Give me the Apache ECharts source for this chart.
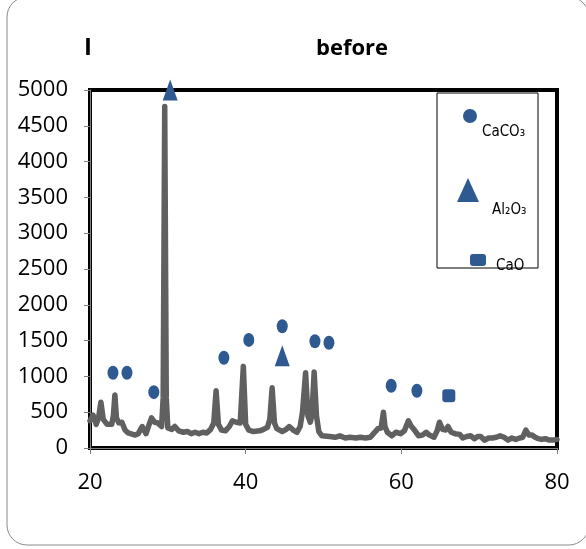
<!DOCTYPE html>
<html>
<head>
<meta charset="utf-8">
<script src="https://cdn.jsdelivr.net/npm/echarts@6/dist/echarts.min.js"></script>
<style>html,body{margin:0;padding:0;background:#fff}#c{width:586px;height:549px}</style>
</head>
<body>
<div id="c"></div>
<script>
// XRD pattern (2θ in degrees, intensity)
const twoTheta = [20.0,20.4,20.8,21.1,21.4,21.7,22.2,22.8,23.0,23.2,23.4,23.7,24.1,24.5,24.9,25.8,26.2,26.7,27.2,27.6,27.9,28.3,28.7,29.2,29.4,29.6,29.8,30.0,30.5,30.9,31.4,32.0,32.5,33.0,33.5,34.0,34.5,35.0,35.5,35.9,36.2,36.5,36.9,37.4,37.9,38.3,38.8,39.3,39.7,40.0,40.4,41.0,41.8,42.3,42.8,43.1,43.4,43.7,44.0,44.7,45.2,45.6,46.1,46.6,47.0,47.3,47.7,48.0,48.3,48.5,48.8,49.1,49.4,49.8,50.8,51.5,52.1,52.8,53.4,54.2,54.7,55.4,56.0,56.6,57.0,57.4,57.7,57.9,58.2,58.8,59.3,59.9,60.4,60.9,61.3,61.7,62.2,62.7,63.2,63.6,64.2,64.6,64.9,65.3,65.7,66.0,66.4,66.9,67.5,67.9,68.4,68.9,69.4,69.8,70.2,70.7,71.2,71.7,72.2,72.7,73.2,73.7,74.2,74.7,75.2,75.6,76.0,76.4,76.8,77.2,77.6,78.0,78.5,79.0,79.5,80.0];
const intensity = [380,460,330,420,640,400,330,330,450,740,420,350,360,250,210,180,200,300,200,330,420,360,350,300,700,4770,700,280,260,300,240,220,230,200,220,200,220,210,260,350,800,330,250,240,300,380,360,350,1140,330,250,230,240,260,290,400,840,350,270,230,260,300,250,220,300,500,1050,450,360,450,1060,450,230,170,160,150,170,140,150,140,150,140,150,220,270,280,500,300,220,170,220,200,240,380,300,250,170,180,220,180,150,240,360,260,250,300,220,200,190,140,160,170,130,160,160,110,140,140,150,170,150,110,140,120,140,150,250,180,180,150,130,120,130,110,110,120];

// phase markers
const caco3X = [22.95,24.75,28.2,37.2,40.4,44.7,48.9,50.7,58.7,62.0];
const caco3Y = [1050,1050,780,1260,1510,1700,1490,1470,870,800];
const al2o3X = [30.3,44.7];
const al2o3Y = [5000,1290];
const caoX = [66.1];
const caoY = [730];

const yTicks = {min:0, max:5000, step:500};
const xTicks = {min:20, max:80, step:20};

const zip = (a,b) => a.map((v,i)=>[v,b[i]]);
const blue = '#2f5a91';
const numFont = 'Open Sans';
const legFont = '"Liberation Sans Narrow","DejaVu Sans Condensed",sans-serif';
const legRich = (pt, pl) => ({t:{fontFamily:legFont, fontSize:15, color:'#000', padding:[pt,0,0,pl]}});

const chart = echarts.init(document.getElementById('c'), null, {renderer:'canvas'});
chart.setOption({
  animation:false,
  backgroundColor:'#fff',
  title:{text:'before', left:347, top:33, textAlign:'center',
    textStyle:{fontFamily:numFont, fontWeight:'bold', fontSize:22, color:'#000'}},
  graphic:[
    {type:'rect', shape:{x:7,y:-3,width:582,height:548,r:20}, style:{fill:'none',stroke:'#8a8a8a',lineWidth:1}, z:-1},
    {type:'rect', shape:{x:437,y:93,width:101,height:175}, style:{fill:'#fff',stroke:'#000',lineWidth:1}, z:3}
  ],
  grid:{left:90, right:29, top:90, bottom:101, show:true, borderColor:'#000', borderWidth:4, containLabel:false},
  legend:[
    {data:['CaCO₃'], left:463, top:109, padding:0, itemWidth:14, itemHeight:16, z:4, selectedMode:false,
      formatter:'{t|{name}}', textStyle:{rich:legRich(32,0)}},
    {data:['Al₂O₃'], left:457, top:178, padding:0, itemWidth:22, itemHeight:24, z:4, selectedMode:false,
      formatter:'{t|{name}}', textStyle:{rich:legRich(40,8)}},
    {data:['CaO'], left:470, top:254, padding:0, itemWidth:16, itemHeight:12, z:4, selectedMode:false,
      formatter:'{t|{name}}', textStyle:{rich:legRich(12,5)}}
  ],
  xAxis:{type:'value', min:xTicks.min, max:xTicks.max, interval:xTicks.step,
    axisLine:{show:true, lineStyle:{color:'#808080', width:1}},
    axisTick:{show:true, inside:false, length:6, lineStyle:{color:'#808080'}},
    splitLine:{show:false},
    axisLabel:{margin:24, fontFamily:numFont, fontSize:22, color:'#000'}},
  yAxis:{type:'value', min:yTicks.min, max:yTicks.max, interval:yTicks.step,
    name:'I', nameLocation:'end', nameGap:30,
    nameTextStyle:{fontFamily:numFont, fontWeight:'bold', fontSize:24, color:'#000', align:'center', padding:[0,4,0,0]},
    axisLine:{show:true, lineStyle:{color:'#808080', width:1}},
    axisTick:{show:true, inside:false, length:6, lineStyle:{color:'#808080'}},
    splitLine:{show:false},
    axisLabel:{margin:22, fontFamily:numFont, fontSize:22, color:'#000', formatter:v=>String(v)}},
  series:[
    {type:'line', name:'pattern', data:zip(twoTheta,intensity), showSymbol:false, symbol:'none',
      lineStyle:{color:'#606060', width:5.5, cap:'round', join:'round'}, z:2, clip:true},
    {type:'scatter', name:'CaCO₃', data:zip(caco3X,caco3Y), symbol:'circle', symbolSize:[11,14],
      itemStyle:{color:blue, opacity:1}, z:5, clip:false},
    {type:'scatter', name:'Al₂O₃', data:zip(al2o3X,al2o3Y), symbol:'triangle', symbolSize:[15,21],
      itemStyle:{color:blue, opacity:1}, z:5, clip:false},
    {type:'scatter', name:'CaO', data:zip(caoX,caoY), symbol:'roundRect', symbolSize:[13,13],
      itemStyle:{color:blue, opacity:1}, z:5, clip:false}
  ]
});
</script>
</body>
</html>
